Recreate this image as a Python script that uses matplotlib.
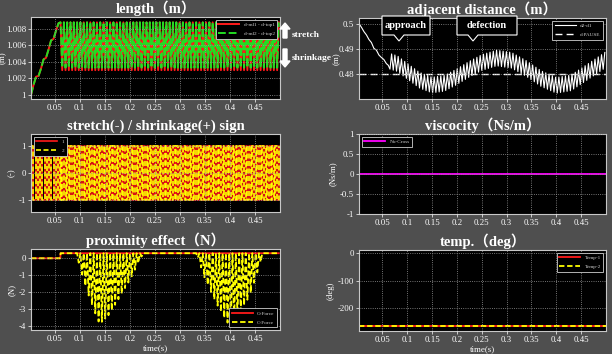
import numpy as np
import matplotlib
matplotlib.use("Agg")
import matplotlib.pyplot as plt
from matplotlib.patches import FancyArrow, Polygon

# ---------------- data ----------------
T_END = 0.5
HALF = 0.0033            # half period of the fast oscillation (s)
T_OSC = 0.062            # start of the oscillating phase

# length: initial ramp
len_ramp_t = [0.003, 0.008, 0.013, 0.018, 0.023, 0.028, 0.033, 0.038, 0.043, 0.048, 0.053, 0.058, 0.062]
len_ramp_v = [1.0, 1.0012, 1.0022, 1.0023, 1.0032, 1.0043, 1.0045, 1.0055, 1.0066, 1.0068, 1.0078, 1.0087, 1.0088]
len_hi, len_lo = 1.0088, 1.0030

# adjacent distance: initial decay
dist_ramp_t = [0.003, 0.008, 0.013, 0.018, 0.023, 0.028, 0.033, 0.038, 0.043, 0.048, 0.053, 0.058, 0.062]
dist_ramp_v = [0.5, 0.4985, 0.4968, 0.4955, 0.4937, 0.4925, 0.4902, 0.4895, 0.4876, 0.4866, 0.4858, 0.4842, 0.4835]
# slow centre of the oscillating band
dist_knot_t = [0.062, 0.08, 0.10, 0.125, 0.15, 0.175, 0.20, 0.225, 0.25, 0.28, 0.31, 0.34, 0.37, 0.40, 0.43, 0.46, 0.50]
dist_knot_c = [0.4853, 0.4842, 0.4812, 0.4776, 0.4757, 0.4764, 0.4790, 0.4820, 0.4846, 0.4864, 0.4855, 0.4822, 0.4782, 0.4756, 0.4766, 0.4805, 0.4858]
dist_half_width = 0.0031
dist_ref = 0.48

# sign
sign_hi, sign_lo = 1, -1
sign_early_step = 0.0045

# proximity effect (C-Force dips envelope)
prox_base = 0.3
dip_t = [0.062, 0.093, 0.11, 0.125, 0.14, 0.16, 0.18, 0.20, 0.227, 0.333, 0.35, 0.37, 0.39, 0.40, 0.42, 0.44, 0.467, 0.5]
dip_v = [0.3, 0.3, -1.5, -2.8, -3.9, -3.3, -2.3, -1.3, 0.3, 0.3, -1.2, -2.5, -3.6, -4.0, -3.2, -2.2, 0.3, 0.3]

visc_value = 0.0
temp1_value = -265
temp2_value = -265

# ---------------- build series ----------------
osc_t = np.arange(T_OSC, T_END + 1e-9, HALF)
phase = np.arange(len(osc_t)) % 2

len_t = np.concatenate([len_ramp_t, osc_t[1:]])
len1 = np.concatenate([len_ramp_v, np.where(phase[1:] == 1, len_lo, len_hi)])
len2 = np.concatenate([len_ramp_v, np.where(phase[1:] == 1, len_lo + 0.0003, len_hi)])

centre = np.interp(osc_t, dist_knot_t, dist_knot_c)
band = np.where(phase == 1, centre - dist_half_width, centre + dist_half_width)
dist_t = np.concatenate([dist_ramp_t, osc_t[1:]])
dist_v = np.concatenate([dist_ramp_v, band[1:]])

early_t = np.arange(0.003, T_OSC, sign_early_step)
sign_t = np.concatenate([early_t, osc_t])
sign_v = np.where(np.arange(len(sign_t)) % 2 == 0, sign_hi, sign_lo)

prox_t = np.concatenate([[0.003, T_OSC - 0.0005], osc_t])
env = np.interp(osc_t, dip_t, dip_v)
c_force = np.concatenate([[0, 0], np.where(phase == 1, env, prox_base)])
g_force = np.concatenate([[0, 0], np.full(len(osc_t), prox_base)])

# ---------------- figure ----------------
W, H = 612, 354
BG = '#4f4f4f'
fig = plt.figure(figsize=(W / 100, H / 100), dpi=100, facecolor=BG)

SERIF = ['Liberation Serif', 'Noto Sans CJK JP', 'DejaVu Serif']
plt.rcParams['font.family'] = SERIF


def ax_at(l, t, r, b):
    return fig.add_axes([l / W, 1 - b / H, (r - l) / W, (b - t) / H])


def style(ax, title, ylabel, xlabel=None):
    ax.set_facecolor('black')
    for s in ax.spines.values():
        s.set_color('#c8c8c8')
        s.set_linewidth(0.8)
    ax.tick_params(colors='white', labelsize=6.3, length=2, width=0.5, pad=1.5)
    for lab in ax.get_xticklabels() + ax.get_yticklabels():
        lab.set_color('white')
    ax.grid(True, color='#9a9a9a', linestyle=':', linewidth=0.6)
    ax.set_axisbelow(False)
    ax.set_title(title, color='white', fontsize=10.5, fontweight='bold', family=SERIF, pad=3)
    ax.set_ylabel(ylabel, color='white', fontsize=6.3, labelpad=2)
    if xlabel:
        ax.set_xlabel(xlabel, color='white', fontsize=6.5, labelpad=1)
    ax.set_xlim(0.003, T_END)
    ax.set_xticks([0.05, 0.1, 0.15, 0.2, 0.25, 0.3, 0.35, 0.4, 0.45])
    ax.set_xticklabels(['0.05', '0.1', '0.15', '0.2', '0.25', '0.3', '0.35', '0.4', '0.45'])


def legend(ax, loc):
    lg = ax.legend(loc=loc, fontsize=3.8, facecolor='black', edgecolor='#d0d0d0',
                   framealpha=1, handlelength=4, borderpad=0.5, labelspacing=0.8,
                   fancybox=False)
    for t in lg.get_texts():
        t.set_color('#d0d0d0')
    lg.get_frame().set_linewidth(0.6)
    return lg


# length
ax1 = ax_at(31, 17, 280, 99)
ax1.plot(len_t, len1, color='#ff1a1a', lw=1.4, label='d-ml1 - d-top1')
ax1.plot(len_t, len2, color='#22dd22', lw=1.4, ls=(0, (4, 1.5)), label='d-ml2 - d-top2')
style(ax1, 'length（m）', '(m)')
ax1.set_ylim(0.9995, 1.00945)
ax1.set_yticks([1.0, 1.002, 1.004, 1.006, 1.008])
ax1.set_yticklabels(['1', '1.002', '1.004', '1.006', '1.008'])
ax1.yaxis.set_label_coords(-0.096, 0.5)
legend(ax1, 'upper right')

# adjacent distance
ax2 = ax_at(359, 18, 606, 99)
ax2.plot(dist_t, dist_v, color='white', lw=0.8, label='d2-d1')
ax2.axhline(dist_ref, color='white', lw=1.0, ls=(0, (5, 3)), label='d-PAUSE')
style(ax2, 'adjacent distance（m）', '(m)')
ax2.set_ylim(0.4702, 0.5022)
ax2.set_yticks([0.48, 0.49, 0.5])
ax2.set_yticklabels(['0.48', '0.49', '0.5'])
ax2.yaxis.set_label_coords(-0.075, 0.5)
legend(ax2, 'upper right')

# sign
ax3 = ax_at(31, 134, 280, 212)
ax3.plot(sign_t, sign_v, color='#ff1a1a', lw=1.2, drawstyle='steps-post', label='1')
ax3.plot(sign_t, sign_v, color='#ffff00', lw=1.2, ls=(0, (3, 1.5)), drawstyle='steps-post', label='2')
style(ax3, 'stretch(-) / shrinkage(+) sign', '(-)')
ax3.set_ylim(-1.47, 1.47)
ax3.set_yticks([-1, 0, 1])
ax3.set_yticklabels(['-1', '0', '1'])
legend(ax3, 'upper left')

# viscosity
ax4 = ax_at(359, 134, 606, 214)
ax4.axhline(visc_value, color='#ff00ff', lw=1.3, label='Nu-Cross')
style(ax4, 'viscocity（Ns/m）', '(Ns/m)')
ax4.set_ylim(-1, 1)
ax4.set_yticks([-1, -0.5, 0, 0.5, 1])
ax4.set_yticklabels(['-1', '-0.5', '0', '0.5', '1'])
legend(ax4, 'upper left')

# proximity effect
ax5 = ax_at(31, 249, 280, 330)
ax5.plot(prox_t, g_force, color='#ff1a1a', lw=1.3, label='G-Force')
ax5.plot(prox_t, c_force, color='#ffff00', lw=1.3, ls=(0, (3, 1.5)), label='C-Force')
style(ax5, 'proximity effect（N）', '(N)', 'time(s)')
ax5.set_ylim(-4.25, 0.55)
ax5.set_yticks([-4, -3, -2, -1, 0])
ax5.set_yticklabels(['-4', '-3', '-2', '-1', '0'])
legend(ax5, 'lower right')

# temperature
ax6 = ax_at(359, 250, 606, 331)
ax6.axhline(temp1_value, color='#ff1a1a', lw=1.3, label='Temp-1')
ax6.axhline(temp2_value, color='#ffff00', lw=1.3, ls=(0, (3, 1.5)), label='Temp-2')
style(ax6, 'temp.（deg）', '(deg)', 'time(s)')
ax6.set_ylim(-282, 12)
ax6.set_yticks([-200, -100, 0])
ax6.set_yticklabels(['-200', '-100', '0'])
legend(ax6, 'upper right')

# ---------------- annotations ----------------
def fx(px):
    return px / W


def fy(py):
    return 1 - py / H


fig.add_artist(FancyArrow(fx(285), fy(38), 0, (38 - 23) / H, width=4 / W, head_width=10 / W,
                          head_length=6 / H, length_includes_head=True, color='white',
                          transform=fig.transFigure))
fig.add_artist(FancyArrow(fx(285), fy(49), 0, -(67 - 49) / H, width=4 / W, head_width=10 / W,
                          head_length=6 / H, length_includes_head=True, color='white',
                          transform=fig.transFigure))
fig.text(fx(292), fy(35), 'stretch', color='white', fontsize=6.8, fontweight='bold',
         va='center', ha='left')
fig.text(fx(292), fy(58), 'shrinkage', color='white', fontsize=6.8, fontweight='bold',
         va='center', ha='left')


def callout(l, r, t, b, tip_x, tip_y, text):
    pts = [(l, t), (r, t), (r, b), (tip_x + 5, b), (tip_x, tip_y), (tip_x - 5, b), (l, b)]
    poly = Polygon([(fx(x), fy(y)) for x, y in pts], closed=True, facecolor='black',
                   edgecolor='white', lw=0.8, transform=fig.transFigure)
    fig.add_artist(poly)
    fig.text(fx((l + r) / 2), fy((t + b) / 2), text, color='white', fontsize=7.5,
             fontweight='bold', ha='center', va='center')


callout(382, 430, 16, 35, 399, 41, 'approach')
callout(457, 517, 16, 35, 473, 41, 'defection')

fig.savefig('out.png', dpi=100, facecolor=BG)
